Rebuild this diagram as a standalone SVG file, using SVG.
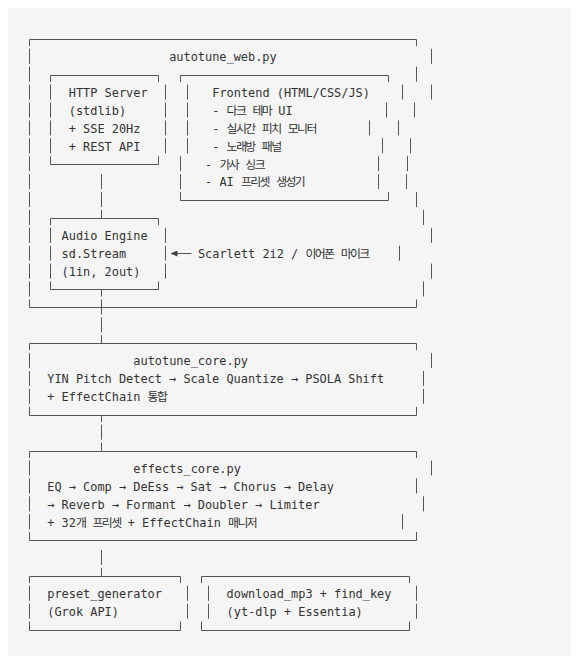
<svg xmlns="http://www.w3.org/2000/svg" width="579" height="669" viewBox="0 0 579 669">
<defs>
<style>
.t{font-family:"DejaVu Sans Mono","Noto Sans CJK KR",monospace;font-size:11.92px;fill:#333;white-space:pre}
.ko{font-family:"Noto Sans CJK KR","DejaVu Sans Mono",sans-serif;letter-spacing:-1.6px}
.b{fill:none;stroke:#555;stroke-width:1}
</style>
<marker id="ah" viewBox="0 0 7 6" refX="6.5" refY="3" markerWidth="7" markerHeight="6" markerUnits="userSpaceOnUse" orient="auto">
<path d="M0,0 L7,3 L0,6 Z" fill="#444"/>
</marker>
</defs>
<rect x="0" y="0" width="579" height="669" fill="#ffffff"/>
<rect x="8" y="8" width="563" height="648" rx="4" fill="#f5f5f5"/>

<g id="autotune_web">
<path class="b" d="M29.5,46.1 V39.5 H416.5 V46.1
M29.5,48.8 V63.8 M29.5,66.7 V81.7 M29.5,84.6 V99.6 M29.5,102.5 V117.5 M29.5,120.4 V135.4 M29.5,138.3 V153.3 M29.5,156.2 V171.2
M29.5,174.1 V189.1 M29.5,192 V207 M29.5,209.9 V224.9 M29.5,227.8 V242.8 M29.5,245.7 V260.7 M29.5,263.6 V278.6 M29.5,281.5 V296.5
M29.5,299.4 V307.5 H416.5 V299.4
M431.5,48.8 V63.8 M416.5,66.7 V81.7 M431.5,84.6 V99.6 M414.5,102.5 V117.5 M398.5,120.4 V135.4 M410.5,138.3 V153.3 M407.5,156.2 V171.2
M406.5,174.1 V189.1 M416.5,192 V207 M423.5,209.9 V224.9 M431.5,227.8 V242.8 M399.5,245.7 V260.7 M431.5,263.6 V278.6 M423.5,281.5 V296.5"/>
<text class="t" x="169.19" y="61.1">autotune_web.py</text>
</g>

<g id="http_server">
<path class="b" d="M50.5,82.1 V75.5 H158.5 V82.1
M50.5,84.6 V99.6 M50.5,102.5 V117.5 M50.5,120.4 V135.4 M50.5,138.3 V153.3
M165.5,84.6 V99.6 M165.5,102.5 V117.5 M165.5,120.4 V135.4 M165.5,138.3 V153.3
M50.5,156.2 V164.5 H158.5 V156.2"/>
<text class="t" x="68.75" y="96.9">HTTP Server</text>
<text class="t" x="68.75" y="114.8">(stdlib)</text>
<text class="t" x="68.75" y="132.7">+ SSE 20Hz</text>
<text class="t" x="68.75" y="150.6">+ REST API</text>
</g>

<g id="frontend">
<path class="b" d="M180.5,82.1 V75.5 H388.5 V82.1
M187.5,84.6 V99.6 M187.5,102.5 V117.5 M187.5,120.4 V135.4 M187.5,138.3 V153.3 M180.5,156.2 V171.2 M180.5,174.1 V189.1
M402.5,84.6 V99.6 M386.5,102.5 V117.5 M369.5,120.4 V135.4 M382.5,138.3 V153.3 M378.5,156.2 V171.2 M378.5,174.1 V189.1
M180.5,192 V200.5 H388.5 V192"/>
<text class="t" x="212.23" y="96.9">Frontend (HTML/CSS/JS)</text>
<text class="t" x="212.23" y="114.8">- <tspan class="ko">다크</tspan> <tspan class="ko">테마</tspan> UI</text>
<text class="t" x="212.23" y="132.7">- <tspan class="ko">실시간</tspan> <tspan class="ko">피치</tspan> <tspan class="ko">모니터</tspan></text>
<text class="t" x="212.23" y="150.6">- <tspan class="ko">노래방</tspan> <tspan class="ko">패널</tspan></text>
<text class="t" x="205.06" y="168.5">- <tspan class="ko">가사</tspan> <tspan class="ko">싱크</tspan></text>
<text class="t" x="205.06" y="186.4">- AI <tspan class="ko">프리셋</tspan> <tspan class="ko">생성기</tspan></text>
</g>

<g id="audio_engine">
<path class="b" d="M50.5,225.1 V218.5 H158.5 V225.1
M50.5,227.8 V242.8 M50.5,245.7 V260.7 M50.5,263.6 V278.6
M165.5,227.8 V242.8 M165.5,245.7 V260.7 M165.5,263.6 V278.6
M50.5,281.5 V289.5 H158.5 V281.5"/>
<text class="t" x="61.58" y="240.1">Audio Engine</text>
<text class="t" x="61.58" y="258">sd.Stream</text>
<text class="t" x="61.58" y="275.9">(1in, 2out)</text>
</g>

<g id="mic_input">
<text class="t" x="197.89" y="258">Scarlett 2i2 / <tspan class="ko">이어폰</tspan> <tspan class="ko">마이크</tspan></text>
</g>

<g id="autotune_core">
<path class="b" d="M29.5,350.1 V343.5 H416.5 V350.1
M29.5,353.1 V368.1 M29.5,371 V386 M29.5,388.9 V403.9
M431.5,353.1 V368.1 M423.5,371 V386 M423.5,388.9 V403.9
M29.5,406.8 V415.5 H416.5 V406.8"/>
<text class="t" x="133.32" y="365.4">autotune_core.py</text>
<text class="t" x="47.23" y="383.3">YIN Pitch Detect → Scale Quantize → PSOLA Shift</text>
<text class="t" x="47.23" y="401.2">+ EffectChain <tspan class="ko">통합</tspan></text>
</g>

<g id="effects_core">
<path class="b" d="M29.5,458.1 V451.5 H416.5 V458.1
M29.5,460.5 V475.5 M29.5,478.4 V493.4 M29.5,496.3 V511.3 M29.5,514.2 V529.2
M431.5,460.5 V475.5 M416.5,478.4 V493.4 M423.5,496.3 V511.3 M402.5,514.2 V529.2
M29.5,532.1 V540.5 H416.5 V532.1"/>
<text class="t" x="133.32" y="472.8">effects_core.py</text>
<text class="t" x="47.23" y="490.7">EQ → Comp → DeEss → Sat → Chorus → Delay</text>
<text class="t" x="47.23" y="508.6">→ Reverb → Formant → Doubler → Limiter</text>
<text class="t" x="47.23" y="526.5">+ 32<tspan class="ko">개</tspan> <tspan class="ko">프리셋</tspan> + EffectChain <tspan class="ko">매니저</tspan></text>
</g>

<g id="preset_generator">
<path class="b" d="M29.5,583.1 V576.5 H180.5 V583.1
M29.5,585.8 V600.8 M29.5,603.7 V618.7
M187.5,585.8 V600.8 M187.5,603.7 V618.7
M29.5,621.6 V630.5 H180.5 V621.6"/>
<text class="t" x="47.23" y="598.1">preset_generator</text>
<text class="t" x="47.23" y="616">(Grok API)</text>
</g>

<g id="download_mp3">
<path class="b" d="M201.5,583.1 V576.5 H409.5 V583.1
M208.5,585.8 V600.8 M208.5,603.7 V618.7
M416.5,585.8 V600.8 M416.5,603.7 V618.7
M201.5,621.6 V630.5 H409.5 V621.6"/>
<text class="t" x="226.58" y="598.1">download_mp3 + find_key</text>
<text class="t" x="226.58" y="616">(yt-dlp + Essentia)</text>
</g>

<g id="connectors">
<path class="b" d="M101.5,174.1 V189.1 M101.5,192 V207 M101.5,209.9 V218.5
M101.5,289.5 V296.5 M101.5,299.4 V314.4 M101.5,317.3 V332.3 M101.5,335.2 V343.5
M101.5,415.5 V422.1 M101.5,424.7 V439.7 M101.5,442.6 V451.5
M101.5,550 V565 M101.5,567.9 V576.5"/>
<path class="b" d="M191.5,253.5 H171" marker-end="url(#ah)"/>
</g>
</svg>
